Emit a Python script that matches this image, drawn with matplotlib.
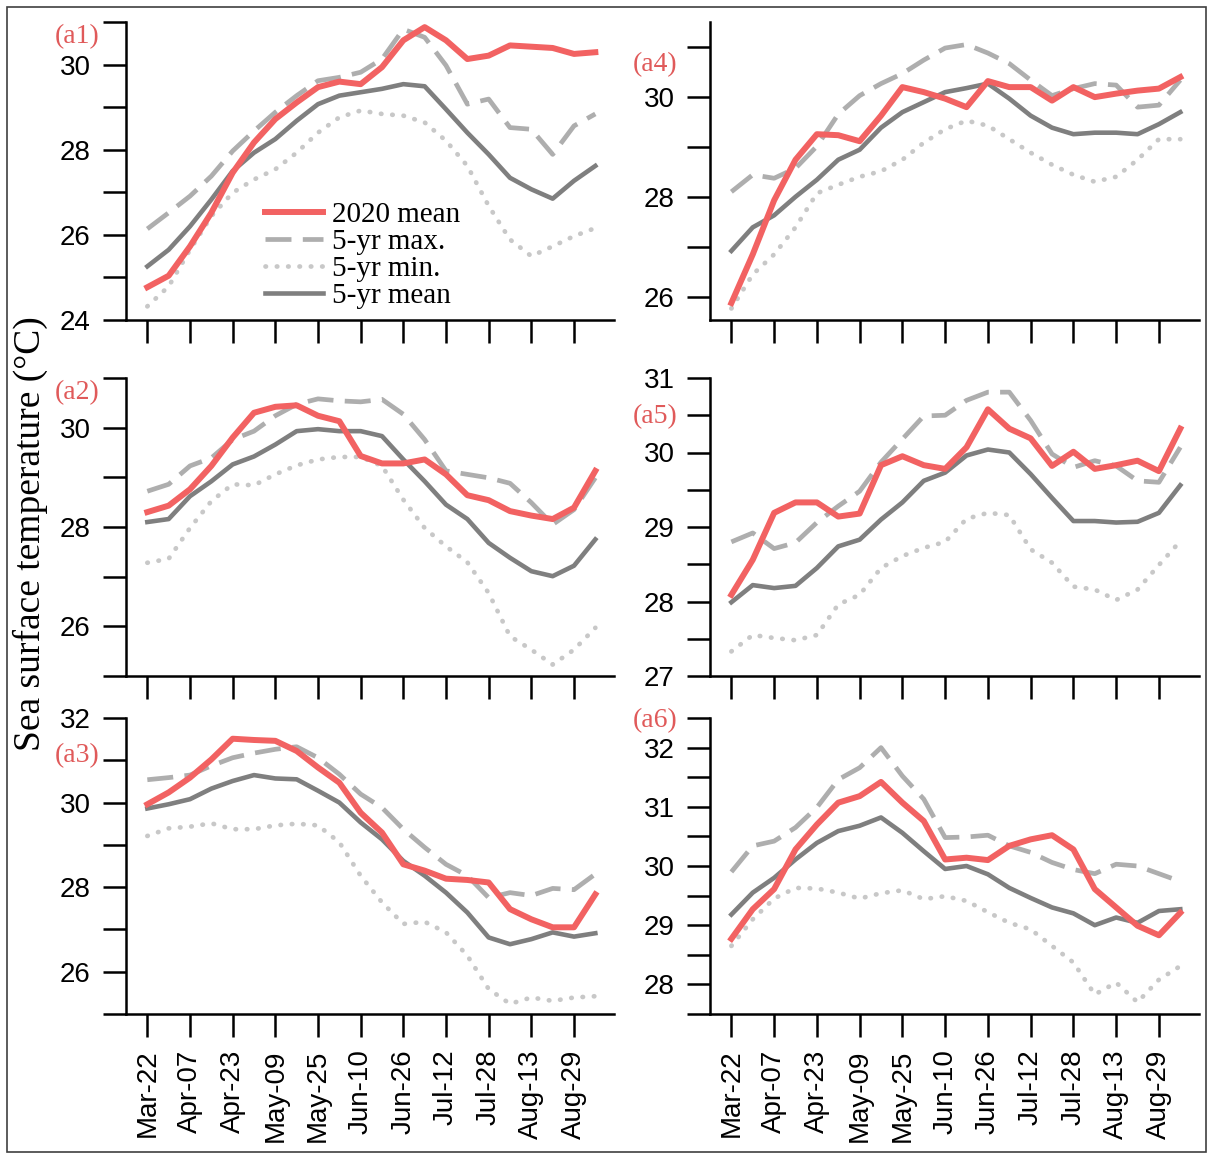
import numpy as np
import pandas as pd
import matplotlib
matplotlib.use('Agg')
import matplotlib.pyplot as plt
from matplotlib.patches import Rectangle

# ---------------- data ----------------
dates = ['2020-03-22', '2020-03-30', '2020-04-07', '2020-04-15', '2020-04-23',
         '2020-05-01', '2020-05-09', '2020-05-17', '2020-05-25', '2020-06-02',
         '2020-06-10', '2020-06-18', '2020-06-26', '2020-07-04', '2020-07-12',
         '2020-07-20', '2020-07-28', '2020-08-05', '2020-08-13', '2020-08-21',
         '2020-08-29', '2020-09-06']
tick_dates = ['2020-03-22', '2020-04-07', '2020-04-23', '2020-05-09', '2020-05-25',
              '2020-06-10', '2020-06-26', '2020-07-12', '2020-07-28', '2020-08-13',
              '2020-08-29']
tick_labels = ['Mar-22', 'Apr-07', 'Apr-23', 'May-09', 'May-25', 'Jun-10',
               'Jun-26', 'Jul-12', 'Jul-28', 'Aug-13', 'Aug-29']
series_labels = ['2020 mean', '5-yr max.', '5-yr min.', '5-yr mean']
panel_names = ['(a1)', '(a2)', '(a3)', '(a4)', '(a5)', '(a6)']

a1_2020 = [24.77, 25.04, 25.73, 26.52, 27.46, 28.17, 28.72, 29.11, 29.47, 29.60, 29.54,
           29.94, 30.57, 30.88, 30.57, 30.13, 30.21, 30.45, 30.42, 30.39, 30.25, 30.29]
a1_max = [26.14, 26.52, 26.91, 27.38, 27.97, 28.44, 28.88, 29.27, 29.62, 29.70, 29.82,
          30.13, 30.83, 30.64, 29.98, 29.07, 29.19, 28.52, 28.48, 27.89, 28.56, 28.84]
a1_min = [24.32, 24.79, 25.65, 26.44, 26.99, 27.30, 27.54, 27.93, 28.40, 28.76, 28.92,
          28.84, 28.80, 28.64, 28.21, 27.62, 26.68, 25.89, 25.50, 25.73, 25.97, 26.16]
a1_mean = [25.26, 25.65, 26.20, 26.83, 27.50, 27.93, 28.25, 28.68, 29.07, 29.27, 29.35,
           29.43, 29.54, 29.49, 28.95, 28.40, 27.89, 27.34, 27.07, 26.85, 27.27, 27.62]

a2_2020 = [28.30, 28.43, 28.76, 29.23, 29.80, 30.30, 30.42, 30.45, 30.24, 30.13, 29.43,
           29.28, 29.28, 29.36, 29.06, 28.64, 28.54, 28.32, 28.23, 28.16, 28.39, 29.13]
a2_max = [28.72, 28.86, 29.23, 29.39, 29.76, 29.93, 30.24, 30.47, 30.58, 30.54, 30.52,
          30.57, 30.27, 29.76, 29.13, 29.06, 28.99, 28.88, 28.49, 28.05, 28.35, 28.99]
a2_min = [27.28, 27.36, 27.98, 28.52, 28.86, 28.84, 29.06, 29.24, 29.36, 29.41, 29.41,
          29.23, 28.55, 27.98, 27.61, 27.29, 26.67, 25.80, 25.53, 25.23, 25.53, 25.97]
a2_mean = [28.10, 28.16, 28.62, 28.92, 29.26, 29.42, 29.66, 29.93, 29.97, 29.93, 29.93,
           29.83, 29.36, 28.92, 28.45, 28.16, 27.68, 27.38, 27.11, 27.01, 27.22, 27.75]

a3_2020 = [29.96, 30.24, 30.59, 31.02, 31.51, 31.48, 31.46, 31.22, 30.83, 30.47, 29.76,
           29.29, 28.54, 28.39, 28.20, 28.17, 28.11, 27.48, 27.24, 27.05, 27.05, 27.83]
a3_max = [30.54, 30.59, 30.65, 30.87, 31.06, 31.17, 31.26, 31.32, 31.06, 30.67, 30.20,
          29.88, 29.37, 28.94, 28.54, 28.27, 27.75, 27.87, 27.80, 27.97, 27.94, 28.31]
a3_min = [29.21, 29.39, 29.43, 29.51, 29.37, 29.37, 29.46, 29.50, 29.46, 29.06, 28.27,
          27.64, 27.13, 27.18, 26.93, 26.38, 25.59, 25.24, 25.39, 25.31, 25.39, 25.42]
a3_mean = [29.86, 29.96, 30.08, 30.33, 30.51, 30.65, 30.57, 30.55, 30.28, 30.00, 29.53,
           29.13, 28.62, 28.27, 27.87, 27.40, 26.81, 26.65, 26.77, 26.93, 26.83, 26.91]

a4_2020 = [25.89, 26.86, 27.94, 28.75, 29.26, 29.24, 29.12, 29.63, 30.20, 30.10, 29.97,
           29.80, 30.32, 30.20, 30.20, 29.93, 30.20, 30.00, 30.07, 30.13, 30.17, 30.40]
a4_max = [28.11, 28.45, 28.38, 28.58, 29.02, 29.66, 30.03, 30.27, 30.47, 30.74, 30.98,
          31.05, 30.88, 30.67, 30.34, 30.03, 30.17, 30.27, 30.24, 29.80, 29.84, 30.34]
a4_min = [25.78, 26.46, 26.86, 27.40, 28.08, 28.25, 28.41, 28.52, 28.75, 29.09, 29.36,
          29.53, 29.43, 29.16, 28.89, 28.65, 28.45, 28.31, 28.41, 28.75, 29.16, 29.16]
a4_mean = [26.93, 27.40, 27.64, 28.01, 28.35, 28.75, 28.95, 29.39, 29.70, 29.90, 30.10,
           30.18, 30.27, 29.97, 29.63, 29.39, 29.26, 29.29, 29.29, 29.26, 29.46, 29.70]

a5_2020 = [28.09, 28.56, 29.19, 29.33, 29.33, 29.14, 29.18, 29.83, 29.95, 29.83, 29.78,
           30.07, 30.58, 30.32, 30.19, 29.82, 30.01, 29.78, 29.83, 29.89, 29.75, 30.32]
a5_max = [28.80, 28.92, 28.71, 28.79, 29.06, 29.28, 29.48, 29.87, 30.18, 30.49, 30.50,
          30.70, 30.81, 30.81, 30.43, 29.98, 29.80, 29.89, 29.82, 29.62, 29.60, 30.07]
a5_min = [27.33, 27.55, 27.51, 27.48, 27.55, 27.96, 28.09, 28.45, 28.61, 28.72, 28.80,
          29.11, 29.19, 29.16, 28.70, 28.52, 28.20, 28.16, 28.02, 28.16, 28.49, 28.81]
a5_mean = [27.99, 28.22, 28.18, 28.21, 28.45, 28.74, 28.83, 29.10, 29.33, 29.62, 29.73,
           29.96, 30.04, 30.00, 29.71, 29.39, 29.08, 29.08, 29.06, 29.07, 29.19, 29.56]

a6_2020 = [28.77, 29.27, 29.61, 30.28, 30.70, 31.07, 31.18, 31.42, 31.07, 30.76, 30.11,
           30.14, 30.10, 30.34, 30.45, 30.52, 30.28, 29.61, 29.30, 28.99, 28.83, 29.21]
a6_max = [29.90, 30.34, 30.42, 30.65, 30.99, 31.46, 31.66, 32.00, 31.52, 31.13, 30.48,
          30.49, 30.52, 30.34, 30.23, 30.06, 29.94, 29.87, 30.03, 30.00, 29.87, 29.74]
a6_min = [28.65, 29.10, 29.45, 29.63, 29.62, 29.55, 29.45, 29.54, 29.59, 29.44, 29.49,
          29.41, 29.22, 29.04, 28.93, 28.65, 28.37, 27.83, 28.03, 27.70, 28.08, 28.31]
a6_mean = [29.18, 29.55, 29.80, 30.11, 30.39, 30.59, 30.68, 30.82, 30.56, 30.25, 29.95,
           30.00, 29.86, 29.63, 29.46, 29.30, 29.20, 29.00, 29.13, 29.04, 29.24, 29.27]

# ---------------- layout ----------------
W, H = 1213, 1159
fig = plt.figure(figsize=(W / 100, H / 100), dpi=100)
SERIF = 'Liberation Serif'
SANS = 'Liberation Sans'

start = pd.Timestamp(dates[0])
x = np.array([(pd.Timestamp(d) - start).days for d in dates])
xt = np.array([(pd.Timestamp(d) - start).days for d in tick_dates])

def px_axes(l, t, r, b):
    return [l / W, 1 - b / H, (r - l) / W, (b - t) / H]

cols = [(126, 614), (710, 1199)]
rows = [(22, 320), (378, 676), (718, 1014)]

panels = [
    ('(a1)', (a1_2020, a1_max, a1_min, a1_mean), 0, 0, (24, 31),
     np.arange(24, 31.01, 1), [24, 26, 28, 30], (-0.100, 0.950)),
    ('(a2)', (a2_2020, a2_max, a2_min, a2_mean), 0, 1, (25, 31),
     np.arange(25, 31.01, 1), [26, 28, 30], (-0.100, 0.950)),
    ('(a3)', (a3_2020, a3_max, a3_min, a3_mean), 0, 2, (25, 32),
     np.arange(25, 32.01, 1), [26, 28, 30, 32], (-0.100, 0.872)),
    ('(a4)', (a4_2020, a4_max, a4_min, a4_mean), 1, 0, (25.55, 31.5),
     np.arange(26, 31.01, 1), [26, 28, 30], (-0.112, 0.856)),
    ('(a5)', (a5_2020, a5_max, a5_min, a5_mean), 1, 1, (27, 31),
     np.arange(27, 31.01, 0.5), [27, 28, 29, 30, 31], (-0.112, 0.872)),
    ('(a6)', (a6_2020, a6_max, a6_min, a6_mean), 1, 2, (27.5, 32.5),
     np.arange(27.5, 32.51, 0.5), [28, 29, 30, 31, 32], (-0.112, 0.990)),
]

RED = '#F26262'
MAXC = '#AEAEAE'
MINC = '#C8C8C8'
MEANC = '#7F7F7F'

for name, (s20, smax, smin, smean), c, r, ylim, yt_all, yt_lab, lpos in panels:
    l, rr = cols[c]
    t, b = rows[r]
    ax = fig.add_axes(px_axes(l, t, rr, b))
    lmin, = ax.plot(x, smin, color=MINC, lw=3.4, linestyle=(0, (0.1, 2.3)),
                    dash_capstyle='round', solid_capstyle='round')
    lmax, = ax.plot(x, smax, color=MAXC, lw=3.4, linestyle=(0, (5.5, 2.4)))
    lmean, = ax.plot(x, smean, color=MEANC, lw=3.3)
    l20, = ax.plot(x, s20, color=RED, lw=4.3)

    ax.set_xlim(-8, 175)
    ax.set_ylim(*ylim)
    for sp in ('top', 'right'):
        ax.spines[sp].set_visible(False)
    for sp in ('left', 'bottom'):
        ax.spines[sp].set_linewidth(1.8)
    ax.set_yticks(yt_lab)
    ax.set_yticks([v for v in yt_all if v not in yt_lab], minor=True)
    ax.set_yticklabels([str(v) for v in yt_lab])
    ax.set_xticks(xt)
    if r == 2:
        ax.set_xticklabels(tick_labels, rotation=90)
    else:
        ax.set_xticklabels([])
    ax.tick_params(which='both', direction='out', length=16.5, width=1.8,
                   labelsize=20, pad=9)
    for lab in ax.get_xticklabels() + ax.get_yticklabels():
        lab.set_fontfamily(SANS)

    ax.text(lpos[0], lpos[1], name, transform=ax.transAxes, ha='center',
            va='center', color='#E05A5A', fontsize=20, fontfamily=SERIF)

    if name == '(a1)':
        ax.legend([l20, lmax, lmin, lmean], series_labels, loc='upper left',
                  bbox_to_anchor=(0.285, 0.398), frameon=False,
                  prop={'family': SERIF, 'size': 21}, handlelength=2.0,
                  handletextpad=0.3, labelspacing=0.02, borderpad=0,
                  borderaxespad=0)

fig.text(30 / W, 1 - 534 / H, 'Sea surface temperature (°C)', rotation=90,
         ha='center', va='center', fontsize=27, fontfamily=SERIF)

fig.patches.append(Rectangle((7 / W, 7 / H), 1 - 14 / W, 1 - 14 / H,
                             transform=fig.transFigure, fill=False,
                             edgecolor='#404040', linewidth=1.2))

fig.savefig('out.png', dpi=100)
